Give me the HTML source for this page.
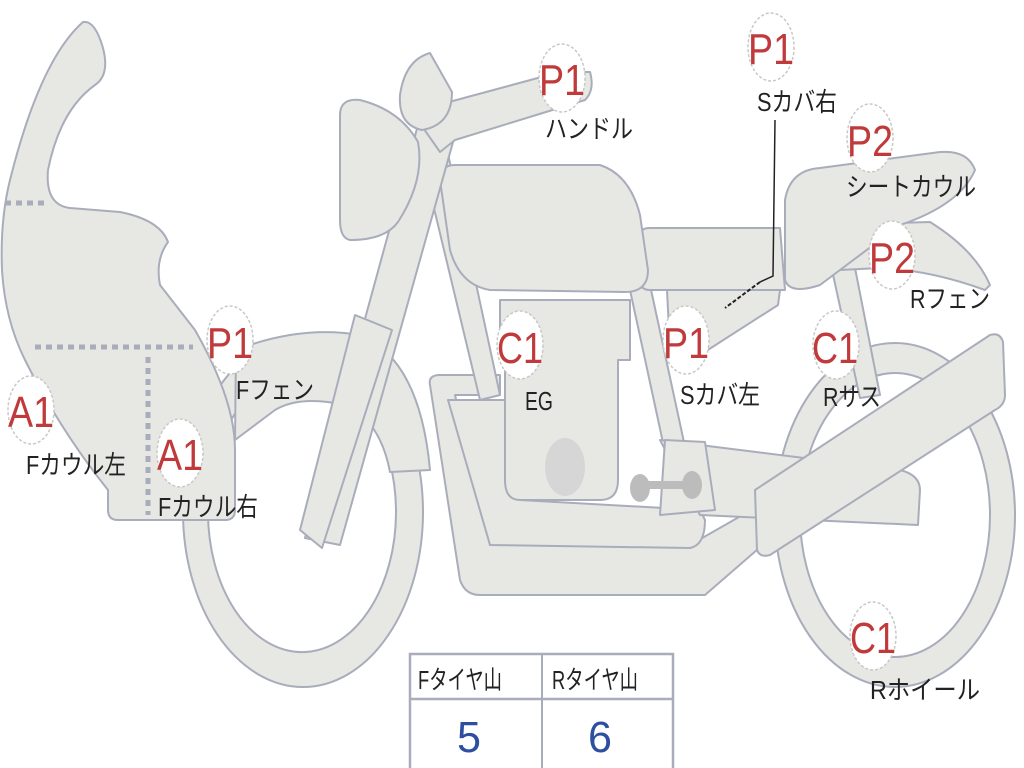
<!DOCTYPE html>
<html><head><meta charset="utf-8"><style>
html,body{margin:0;padding:0;background:#fff;width:1024px;height:768px;overflow:hidden}
svg{display:block}
.s{fill:#e7e8e3;stroke:#a9adbb;stroke-width:2;stroke-linejoin:round}
.lb{font-family:"Liberation Sans","Noto Sans CJK JP",sans-serif;font-size:26px;fill:#222}
.cd{font-family:"Liberation Sans","Noto Sans CJK JP",sans-serif;font-size:44px;fill:#c0393b}
.ci{fill:#fff;stroke:#c8c8c8;stroke-width:1.5;stroke-dasharray:3 2}
</style></head><body>
<svg width="1024" height="768" viewBox="0 0 1024 768">
<path class="s" fill-rule="evenodd" d="M775,515 a120,172 0 1,0 240,0 a120,172 0 1,0 -240,0 Z M800,515 a95,142 0 1,0 190,0 a95,142 0 1,0 -190,0 Z"/>
<path class="s" fill-rule="evenodd" d="M183,512 a120,175 0 1,0 240,0 a120,175 0 1,0 -240,0 Z M208,512 a94,140 0 1,0 188,0 a94,140 0 1,0 -188,0 Z"/>
<path class="s" d="M235,440 L236,350 Q300,325 360,335 Q420,360 430,470 L390,472 Q380,420 345,405 Q300,395 275,410 Z"/>
<path class="s" d="M430,385 Q428,375 440,375 L500,375 L500,395 L455,395 L490,545 L690,545 L760,505 L780,530 L705,595 L480,595 Q465,595 460,580 Z"/>
<path class="s" d="M448,400 L505,400 L520,500 L700,510 L705,520 Q705,545 690,548 L490,545 Z"/>
<path class="s" d="M420,150 L445,140 L500,395 L480,400 Z"/>
<path class="s" d="M630,290 L650,285 L690,470 L670,475 Z"/>
<path class="s" d="M500,300 L630,300 L630,360 L618,360 L618,480 Q618,500 600,500 L520,500 Q505,500 505,480 L505,330 L500,330 Z"/>
<ellipse cx="565" cy="467" rx="20" ry="29" fill="#d6d6d6"/>
<path class="s" d="M660,440 L900,470 Q920,475 920,490 L918,525 L700,515 Z"/>
<path class="s" d="M665,440 L705,442 L715,510 L660,515 Z"/>
<path d="M640,485 L695,485" stroke="#bcbcbc" stroke-width="8"/>
<ellipse cx="640" cy="488" rx="10" ry="14" fill="#bcbcbc"/><ellipse cx="692" cy="485" rx="10" ry="14" fill="#bcbcbc"/>
<path class="s" d="M755,490 L990,335 Q1000,332 1003,342 L1005,395 Q1005,405 995,410 L770,555 Q760,558 757,550 Z"/>
<path class="s" d="M832,270 L855,268 L880,395 L860,398 Z"/>
<path class="s" d="M667,290 L780,290 L778,305 L700,355 L670,350 Z"/>
<path class="s" d="M640,235 Q640,228 650,228 L780,228 L785,290 L650,290 Q640,290 640,280 Z"/>
<path class="s" d="M835,225 L930,222 Q975,250 990,285 L985,290 Q930,270 880,268 L840,270 Z"/>
<path class="s" d="M785,200 Q790,170 820,168 L940,152 Q968,150 975,170 Q960,205 900,225 L820,285 Q790,295 785,280 Z"/>
<path class="s" d="M440,180 Q440,165 455,165 L600,165 Q630,175 640,215 L648,270 Q648,292 625,292 L490,290 Q460,285 450,250 Z"/>
<path class="s" d="M418,125 L455,135 L340,545 L305,538 Z"/>
<path class="s" d="M355,315 L392,330 L322,548 L300,530 Z"/>
<path class="s" d="M412,112 L560,72 L590,72 Q595,90 585,100 L455,140 L440,152 Z"/>
<path class="s" d="M400,95 Q405,60 430,53 L452,92 Q452,125 422,130 Q398,125 400,95 Z"/>
<path class="s" d="M340,115 Q340,98 360,100 Q400,110 418,142 Q425,180 398,222 Q385,240 350,240 Q340,238 340,220 Z"/>
<path class="s" d="M83,22 Q95,20 103,48 Q110,75 95,85 Q60,110 48,170 Q45,205 70,208 L120,212 Q160,220 168,242 Q155,260 160,285 L195,330 Q235,400 235,450 L235,510 Q235,520 225,520 L118,520 Q108,520 108,510 L108,490 Q60,430 25,360 Q5,320 2,270 Q0,220 10,180 Q40,60 83,22 Z"/>
<path d="M5,203 L48,203 M35,347 L193,347 M148,357 L148,515" stroke="#a9adbb" stroke-width="5" stroke-dasharray="6 5" fill="none"/>
<path d="M775,120 L773,276 L760,282" stroke="#222" stroke-width="1.5" fill="none"/>
<path d="M760,282 L725,308" stroke="#222" stroke-width="2" stroke-dasharray="4 2" fill="none"/>
<g>
<ellipse class="ci" cx="562" cy="78" rx="23" ry="34"/><text class="cd" x="539" y="95" textLength="46" lengthAdjust="spacingAndGlyphs">P1</text>
<ellipse class="ci" cx="771" cy="47" rx="23" ry="34"/><text class="cd" x="748" y="64" textLength="46" lengthAdjust="spacingAndGlyphs">P1</text>
<ellipse class="ci" cx="870" cy="138" rx="23" ry="34"/><text class="cd" x="847" y="156" textLength="46" lengthAdjust="spacingAndGlyphs">P2</text>
<ellipse class="ci" cx="892" cy="255" rx="23" ry="34"/><text class="cd" x="869" y="273" textLength="46" lengthAdjust="spacingAndGlyphs">P2</text>
<ellipse class="ci" cx="836" cy="345" rx="23" ry="34"/><text class="cd" x="812" y="363" textLength="46" lengthAdjust="spacingAndGlyphs">C1</text>
<ellipse class="ci" cx="686" cy="340" rx="23" ry="34"/><text class="cd" x="663" y="358" textLength="46" lengthAdjust="spacingAndGlyphs">P1</text>
<ellipse class="ci" cx="520" cy="345" rx="23" ry="34"/><text class="cd" x="497" y="363" textLength="46" lengthAdjust="spacingAndGlyphs">C1</text>
<ellipse class="ci" cx="230" cy="340" rx="23" ry="34"/><text class="cd" x="207" y="358" textLength="46" lengthAdjust="spacingAndGlyphs">P1</text>
<ellipse class="ci" cx="31" cy="410" rx="23" ry="34"/><text class="cd" x="8" y="427" textLength="46" lengthAdjust="spacingAndGlyphs">A1</text>
<ellipse class="ci" cx="180" cy="453" rx="23" ry="34"/><text class="cd" x="157" y="470" textLength="46" lengthAdjust="spacingAndGlyphs">A1</text>
<ellipse class="ci" cx="873" cy="636" rx="23" ry="34"/><text class="cd" x="850" y="653" textLength="46" lengthAdjust="spacingAndGlyphs">C1</text>
</g>
<text class="lb" x="545" y="138" textLength="88" lengthAdjust="spacingAndGlyphs">ハンドル</text>
<text class="lb" x="757" y="111" textLength="80" lengthAdjust="spacingAndGlyphs">Sカバ右</text>
<text class="lb" x="846" y="196" textLength="130" lengthAdjust="spacingAndGlyphs">シートカウル</text>
<text class="lb" x="910" y="308" textLength="80" lengthAdjust="spacingAndGlyphs">Rフェン</text>
<text class="lb" x="823" y="406" textLength="58" lengthAdjust="spacingAndGlyphs">Rサス</text>
<text class="lb" x="680" y="404" textLength="80" lengthAdjust="spacingAndGlyphs">Sカバ左</text>
<text class="lb" x="525" y="410" textLength="28" lengthAdjust="spacingAndGlyphs">EG</text>
<text class="lb" x="236" y="399" textLength="78" lengthAdjust="spacingAndGlyphs">Fフェン</text>
<text class="lb" x="26" y="474" textLength="100" lengthAdjust="spacingAndGlyphs">Fカウル左</text>
<text class="lb" x="158" y="516" textLength="100" lengthAdjust="spacingAndGlyphs">Fカウル右</text>
<text class="lb" x="870" y="699" textLength="110" lengthAdjust="spacingAndGlyphs">Rホイール</text>
<rect x="410" y="654" width="263" height="116" fill="#fff" stroke="#a9adbb" stroke-width="2.5"/>
<line x1="410" y1="699" x2="673" y2="699" stroke="#a9adbb" stroke-width="2.5"/>
<line x1="542" y1="654" x2="542" y2="768" stroke="#a9adbb" stroke-width="2"/>
<text class="lb" x="418" y="689" textLength="84" lengthAdjust="spacingAndGlyphs">Fタイヤ山</text>
<text class="lb" x="552" y="689" textLength="86" lengthAdjust="spacingAndGlyphs">Rタイヤ山</text>
<text x="457" y="752" font-family="Liberation Sans,sans-serif" font-size="44" fill="#2d4fa0" textLength="24" lengthAdjust="spacingAndGlyphs">5</text>
<text x="588" y="752" font-family="Liberation Sans,sans-serif" font-size="44" fill="#2d4fa0" textLength="24" lengthAdjust="spacingAndGlyphs">6</text>
</svg>
</body></html>
